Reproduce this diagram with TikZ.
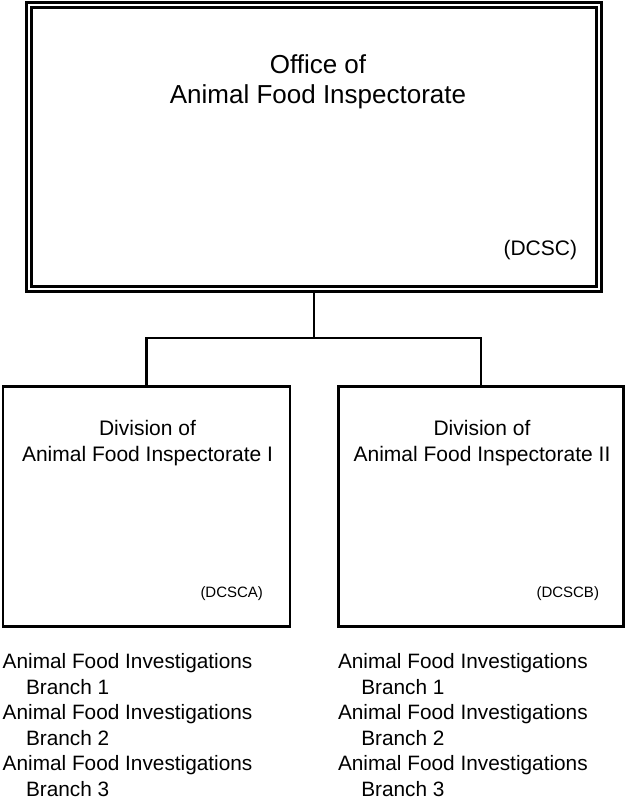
\documentclass[tikz,border=0pt]{standalone}
\usepackage{fontspec}
\setmainfont{Liberation Sans}
\usetikzlibrary{positioning, calc}

\begin{document}
\begin{tikzpicture}[x=1pt, y=-1pt,
  every node/.style={inner sep=0pt, outer sep=0pt},
  orgbox/.style={draw, line width=2.2pt, minimum height=240pt},
  topbox/.style={draw, double, line width=2.5pt, double distance=2.5pt, outer sep=3.75pt},
  titletext/.style={align=center, font=\fontsize{26}{30}\selectfont},
  divtext/.style={align=center, font=\fontsize{21}{26}\selectfont},
  codetext/.style={font=\fontsize{#1}{#1}\selectfont},
  listtext/.style={align=left, font=\fontsize{20.8}{25.6}\selectfont}]
  \useasboundingbox (0,0) rectangle (625,801);

  % Office
  \node[topbox, minimum width=570pt, minimum height=284pt] (office) at (314,147) {};
  \node[titletext, anchor=base] (officename) at (318,103) {Office of\\Animal Food Inspectorate};
  \node[codetext=21, anchor=base east] (officecode) at (577,255) {(DCSC)};

  % Divisions
  \node[orgbox, minimum width=287pt] (divA) at (146.5,506.5) {};
  \node[orgbox, minimum width=285pt] (divB) at (481,506.5) {};
  \node[divtext, anchor=base] (divAname) at (147.5,461) {Division of\\Animal Food Inspectorate I};
  \node[divtext, anchor=base] (divBname) at (482,461) {Division of\\Animal Food Inspectorate II};
  \node[codetext=15, anchor=base east] (divAcode) at (263,597) {(DCSCA)};
  \node[codetext=15, anchor=base east] (divBcode) at (599,597) {(DCSCB)};

  % Connectors
  \coordinate (bus) at (314,338);
  \draw[line width=2.2pt] (office.south) -- (bus);
  \draw[line width=2.2pt] (divA.north) -- (divA.north |- bus) -- (divB.north |- bus) -- (divB.north);

  % Branches
  \foreach \n/\y in {1/694, 2/745, 3/796}{
    \node[listtext, anchor=base west] (branchA\n) at (2.7,\y) {Animal Food Investigations\\\hspace*{23.3pt}Branch \n};
    \node[listtext, anchor=base west] (branchB\n) at (338,\y) {Animal Food Investigations\\\hspace*{23.3pt}Branch \n};
  }
\end{tikzpicture}
\end{document}
